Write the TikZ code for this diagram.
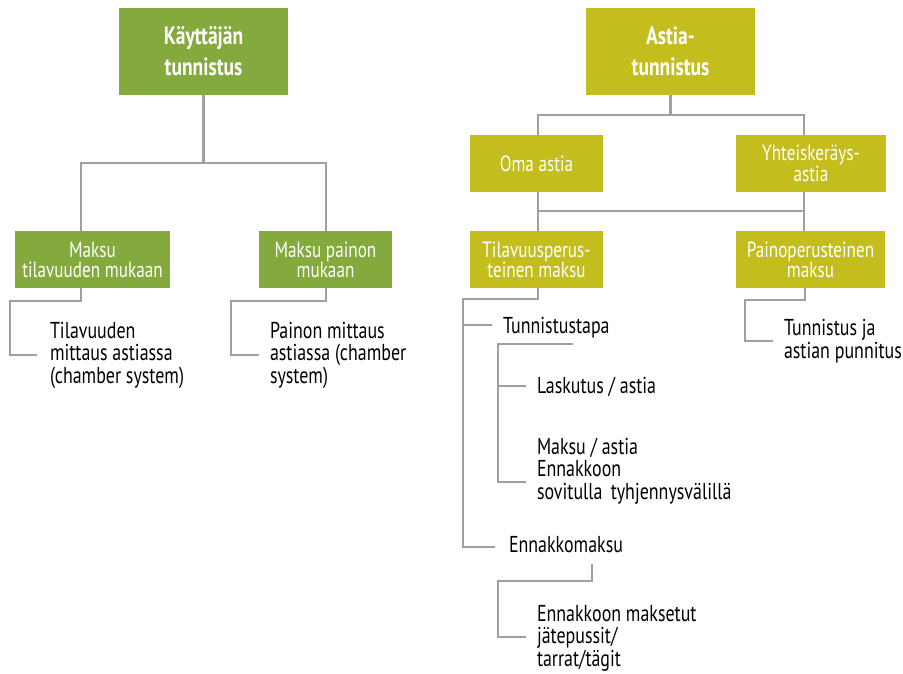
\documentclass[tikz,border=0pt]{standalone}
\usepackage{fontspec}
\setmainfont[FakeStretch=0.78]{PT Sans}
\definecolor{kgreen}{HTML}{84A93C}
\definecolor{kyellow}{HTML}{C3BE1E}
\definecolor{kline}{HTML}{A0A0A0}
\begin{document}
\begin{tikzpicture}[x=1pt,y=-1pt,
  boxbase/.style={inner sep=0pt, outer sep=0pt, anchor=center, align=center, text=white},
  titlebox/.style={boxbase, minimum width=169pt, minimum height=87pt, font=\bfseries\fontsize{25}{31}\selectfont},
  subbox/.style={boxbase, minimum height=57pt, font=\fontsize{22}{20}\selectfont},
  gbox/.style={fill=kgreen},
  ybox/.style={fill=kyellow},
  plain/.style={inner sep=0pt, outer sep=0pt, anchor=base west, align=left, font=\fontsize{23}{22.5}\selectfont},
  conn/.style={draw=kline, line width=2.2pt}
]
\useasboundingbox (0,0) rectangle (903,673);

% left tree
\node[titlebox,gbox] (kt) at (203.5,51.5) {Käyttäjän\\tunnistus};
\node[subbox,gbox,minimum width=155pt] (l1) at (92.5,259.5) {Maksu\\tilavuuden mukaan};
\node[subbox,gbox,minimum width=133pt] (l2) at (325.5,259.5) {Maksu painon\\mukaan};
% plain texts: anchored at the baseline of their last line
\node[plain] (lt1) at (50,383) {Tilavuuden\\mittaus astiassa\\(chamber system)};
\node[plain] (lt2) at (270,383) {Painon mittaus\\astiassa (chamber\\system)};

% right tree
\node[titlebox,ybox] (at) at (670.5,51.5) {Astia-\\tunnistus};
\node[subbox,ybox,minimum width=133pt] (oma) at (536.5,163.5) {Oma astia};
\node[subbox,ybox,minimum width=150pt] (yht) at (811,163.5) {Yhteiskeräys-\\astia};
\node[subbox,ybox,minimum width=133pt] (tpm) at (536.5,259.5) {Tilavuusperus-\\teinen maksu};
\node[subbox,ybox,minimum width=149pt] (ppm) at (810.5,259.5) {Painoperusteinen\\maksu};
\node[plain] (tt) at (503,333) {Tunnistustapa};
\node[plain] (la) at (537,393) {Laskutus / astia};
\node[plain] (ma) at (537,499) {Maksu / astia\\Ennakkoon\\sovitulla\hspace{0.15em} tyhjennysvälillä};
\node[plain] (em) at (509,552) {Ennakkomaksu};
\node[plain] (emt) at (537,666) {Ennakkoon maksetut\\jätepussit/\\tarrat/tägit};
\node[plain] (tj) at (784,358) {Tunnistus ja\\astian punnitus};

% connector coordinates
\coordinate (kj) at (203.5,163);
\coordinate (l1top) at (81,231);
\coordinate (l2top) at (326,231);
\coordinate (l1b) at (81,288);
\coordinate (l2b) at (326,288);
\coordinate (lt1c) at (37,355);
\coordinate (lt2c) at (259,355);
\coordinate (aj) at (670.5,115);
\coordinate (omatop) at (538,135);
\coordinate (yhttop) at (804,135);
\coordinate (omab) at (538,192);
\coordinate (yhtb) at (804,192);
\coordinate (tpmtop) at (538,231);
\coordinate (ppmtop) at (804,231);
\coordinate (tpmb) at (538,288);
\coordinate (ppmb) at (805,288);
\coordinate (ttc) at (492,325);
\coordinate (emc) at (495,547);
\coordinate (ttb) at (573,344);
\coordinate (lac) at (526,386);
\coordinate (mac) at (526,482);
\coordinate (emb) at (592,564);
\coordinate (emtc) at (526,637);
\coordinate (tjc) at (773,341);

% left connectors
\draw[conn] (kt.south) -- (kj);
\draw[conn] (l1top) |- (kj) -| (l2top);
\draw[conn] (l1b) -- (81,301) -- (10,301) |- (lt1c);
\draw[conn] (l2b) -- (326,301) -- (231,301) |- (lt2c);

% right connectors
\draw[conn] (at.south) -- (aj);
\draw[conn] (omatop) |- (aj) -| (yhttop);
\draw[conn] (omab) -- (tpmtop);
\draw[conn] (yhtb) -- (ppmtop);
\draw[conn] (538,211) -- (804,211);
\draw[conn] (tpmb) -- (538,299) -- (463,299) |- (emc);
\draw[conn] (463,325) -- (ttc);
\draw[conn] (ttb) -- (498,344) |- (mac);
\draw[conn] (498,386) -- (lac);
\draw[conn] (emb) -- (592,581) -- (498,581) |- (emtc);
\draw[conn] (ppmb) -- (805,300) -- (745,300) |- (tjc);
\end{tikzpicture}
\end{document}
